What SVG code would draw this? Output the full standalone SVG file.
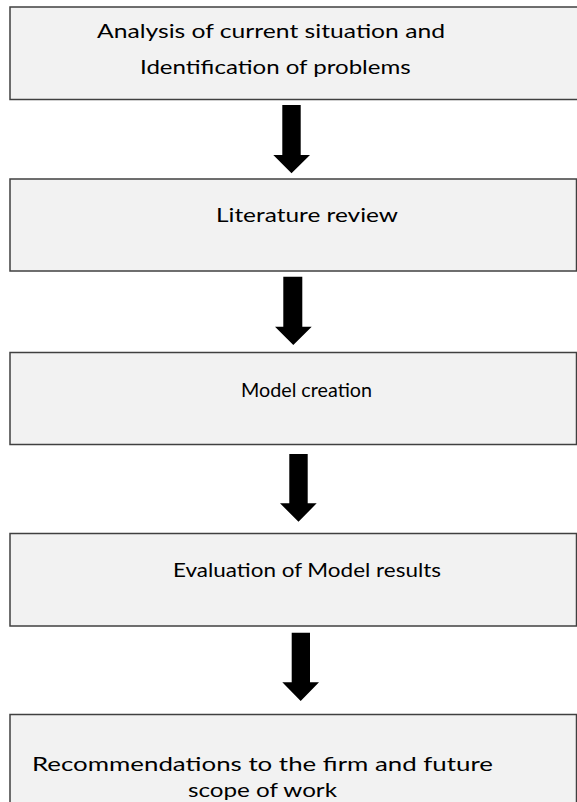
<svg xmlns="http://www.w3.org/2000/svg" width="577" height="802" viewBox="0 0 577 802">
<style>
.box{fill:#f2f2f2;stroke:#404040;stroke-width:1.5}
.lbl{font-family:Lato,"Open Sans","Liberation Sans",sans-serif;font-size:20px;fill:#000;text-anchor:start}
.arr{fill:#000}
</style>
<rect width="577" height="802" fill="#fff"/>
<g id="n1"><rect class="box" x="10" y="7" width="568" height="92.5"/>
<text class="lbl" x="97" y="38" textLength="348" lengthAdjust="spacingAndGlyphs">Analysis of current situation and</text>
<text class="lbl" x="140" y="74" textLength="270.7" lengthAdjust="spacingAndGlyphs">Identification of problems</text></g>
<g id="n2"><rect class="box" x="10" y="179" width="566.5" height="92"/>
<text class="lbl" x="216" y="222" textLength="182" lengthAdjust="spacingAndGlyphs">Literature review</text></g>
<g id="n3"><rect class="box" x="10" y="352.5" width="566.5" height="92"/>
<text class="lbl" x="241" y="397" textLength="131" lengthAdjust="spacingAndGlyphs">Model creation</text></g>
<g id="n4"><rect class="box" x="10" y="533.5" width="566.5" height="92.5"/>
<text class="lbl" x="173" y="577" textLength="268" lengthAdjust="spacingAndGlyphs">Evaluation of Model results</text></g>
<g id="n5"><rect class="box" x="10" y="714.5" width="566.5" height="92"/>
<text class="lbl" x="32" y="771" textLength="461" lengthAdjust="spacingAndGlyphs">Recommendations to the firm and future</text>
<text class="lbl" x="188" y="797" textLength="149" lengthAdjust="spacingAndGlyphs">scope of work</text></g>
<g id="connectors">
<polygon class="arr" points="282.3,105 300.7,105 300.7,155 310,155 291.5,173.3 273.3,155 282.3,155"/>
<polygon class="arr" points="283.3,276.7 302.3,276.7 302.3,326.7 311.7,326.7 293.3,345 275,326.7 283.3,326.7"/>
<polygon class="arr" points="289.3,454 307.7,454 307.7,503.3 316.7,503.3 298.5,521.7 280,503.3 289.3,503.3"/>
<polygon class="arr" points="291.7,632.7 310,632.7 310,682.3 319,682.3 300.7,701 282.3,682.3 291.7,682.3"/>
</g>
</svg>
